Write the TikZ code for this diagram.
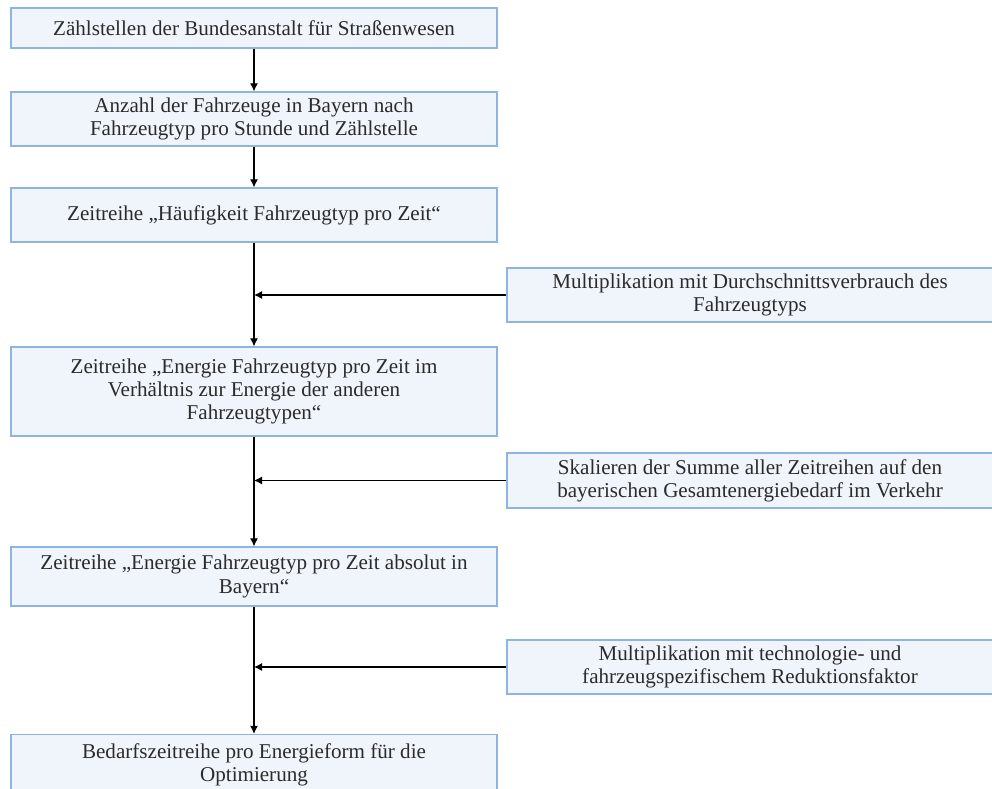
\documentclass[tikz,border=0pt]{standalone}
\usepackage{fontspec}
\setmainfont{Liberation Serif}
\usetikzlibrary{arrows.meta}
\definecolor{boxfill}{HTML}{F0F5FC}
\definecolor{boxline}{HTML}{8DB4E2}
\definecolor{textgray}{HTML}{2B2B2B}

\begin{document}
\begin{tikzpicture}[
    step box/.style ={rectangle, draw=boxline, fill=boxfill, line width=0.9pt,
      minimum width=12.15cm, text=textgray, align=center,
      font=\fontsize{15}{16.5}\selectfont},
    flow/.style ={line width=0.8pt, -{Latex[length=2mm,width=2mm]}}]
   \useasboundingbox (0,0) rectangle (24.8,-19.725);
   \node[step box, minimum height=1cm] (zaehl) at (6.35,-0.7) {Zählstellen der Bundesanstalt für Straßenwesen};
   \node[step box, minimum height=1.35cm] (anzahl) at (6.35,-2.975) {Anzahl der Fahrzeuge in Bayern nach\\ Fahrzeugtyp pro Stunde und Zählstelle};
   \node[step box, minimum height=1.35cm] (haeuf) at (6.35,-5.375) {Zeitreihe „Häufigkeit Fahrzeugtyp pro Zeit“};
   \node[step box, minimum height=1.35cm] (mult) at (18.75,-7.375) {Multiplikation mit Durchschnittsverbrauch des\\ Fahrzeugtyps};
   \node[step box, minimum height=2.225cm] (relativ) at (6.35,-9.7875) {Zeitreihe „Energie Fahrzeugtyp pro Zeit im\\ Verhältnis zur Energie der anderen\\ Fahrzeugtypen“};
   \node[step box, minimum height=1.375cm] (skal) at (18.75,-12.0125) {Skalieren der Summe aller Zeitreihen auf den\\ bayerischen Gesamtenergiebedarf im Verkehr};
   \node[step box, minimum height=1.475cm] (absolut) at (6.35,-14.4125) {Zeitreihe „Energie Fahrzeugtyp pro Zeit absolut in\\ Bayern“};
   \node[step box, minimum height=1.35cm] (reduk) at (18.75,-16.675) {Multiplikation  mit technologie- und\\ fahrzeugspezifischem Reduktionsfaktor};
   \node[step box, minimum height=1.5cm] (bedarf) at (6.35,-19.1125) {Bedarfszeitreihe pro Energieform für die\\ Optimierung};
   \coordinate (m1) at (haeuf.south |- mult.west);
   \coordinate (m2) at (relativ.south |- skal.west);
   \coordinate (m3) at (absolut.south |- reduk.west);
   \draw[flow] (zaehl) to (anzahl);
   \draw[flow] (anzahl) to (haeuf);
   \draw[flow] (haeuf) to (relativ);
   \draw[flow] (relativ) to (absolut);
   \draw[flow] (absolut) to (bedarf);
   \draw[flow] (mult.west) to (m1);
   \draw[flow] (skal.west) to (m2);
   \draw[flow] (reduk.west) to (m3);
 \end{tikzpicture}
\end{document}
